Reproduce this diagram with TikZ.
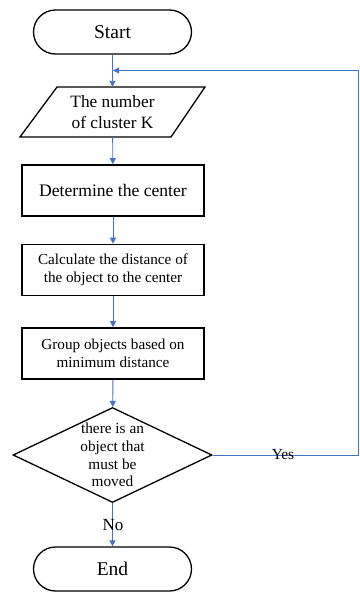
\documentclass[tikz,border=0pt]{standalone}
\usepackage{fontspec}
\setmainfont{Liberation Serif}
\usetikzlibrary{shapes.geometric,shapes.misc,arrows.meta}
\definecolor{lnblue}{HTML}{4472C4}
\begin{document}
\begin{tikzpicture}[x=1pt,y=-1pt,
  term/.style={rounded rectangle, draw, line width=1.3pt, minimum width=158pt, minimum height=44pt, inner sep=0pt, font=\fontsize{19.5}{22}\selectfont},
  box/.style={rectangle, draw, line width=1.6pt, minimum width=182pt, minimum height=51pt, inner sep=0pt, align=center},
  dec/.style={diamond, draw, line width=1.3pt, minimum width=199pt, minimum height=95pt, inner sep=0pt},
  link/.style={draw=lnblue, line width=0.9pt, -{Triangle[length=6pt,width=6pt]}},
  plain/.style={draw=lnblue, line width=0.9pt},
  lab/.style={inner sep=0pt, font=\fontsize{15.4}{18}\selectfont}
]
\useasboundingbox (0,0) rectangle (359,592);
\node[term] (start) at (112.5,32) {Start};
\node[minimum width=150pt, minimum height=50pt, inner sep=0pt, align=center, font=\fontsize{17.3}{21}\selectfont] (num) at (112.5,112) {The number\\of cluster K};
\draw[line width=1.3pt, line join=miter] (57,87) -- (205,87) -- (171,137) -- (20,137) -- cycle;
\node[box, font=\fontsize{17.6}{21}\selectfont] (det) at (113,190.5) {Determine the center};
\node[box, font=\fontsize{15.2}{18}\selectfont] (calc) at (113,270) {Calculate the distance of\\the object to the center};
\node[box, font=\fontsize{15.2}{18}\selectfont] (grp) at (113,353.5) {Group objects based on\\minimum distance};
\node[dec, label={[align=center, inner sep=0pt, font=\fontsize{15.3}{17.7}\selectfont]center:there is an\\object that\\must be\\moved}] (dec) at (112.5,455) {};
\node[term] (end) at (112.5,569) {End};
\coordinate (rb) at (358,455);
\coordinate (rt) at (358,70.5);
\coordinate (join) at (113,70.5);
\draw[link] (start) -- (num);
\draw[link] (num) -- (det);
\draw[link] (det) -- (calc);
\draw[link] (calc) -- (grp);
\draw[link] (grp) -- (dec);
\draw[link] (dec) -- (end);
\draw[link] (dec.east) -- (rb) -- (rt) -- (join);
\node[lab] (yes) at (283,455) {Yes};
\node[inner sep=0pt, font=\fontsize{17}{20}\selectfont] (no) at (113,525) {No};
\end{tikzpicture}
\end{document}
